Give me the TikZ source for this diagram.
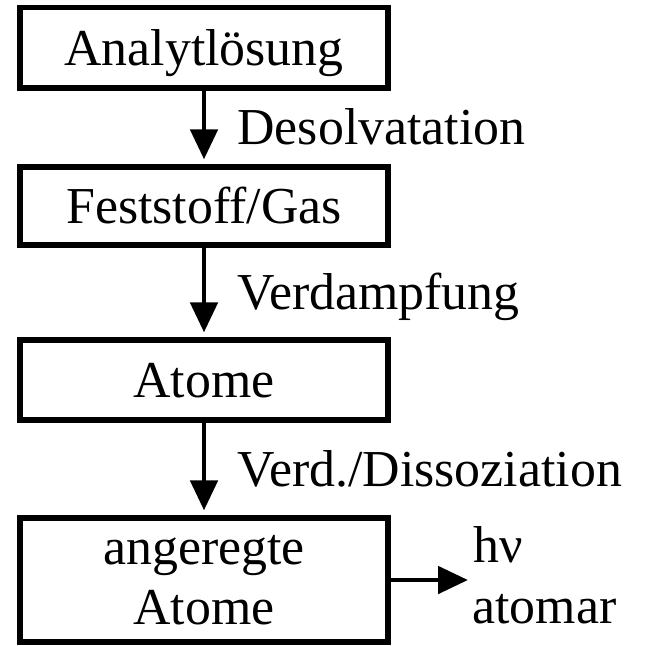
\documentclass[tikz,border=0pt]{standalone}
\usepackage{fontspec}
\setmainfont{Liberation Serif}
\usetikzlibrary{arrows.meta}

\tikzset{
    stage/.style={draw, line width=3pt, minimum width=7.36cm, inner sep=0pt,
        align=center, font=\fontsize{29.5}{34}\selectfont},
    capline/.style={text height=0.69cm, text depth=0pt},
    proc/.style={anchor=west, inner sep=2pt, capline, font=\fontsize{29.5}{34}\selectfont},
    flow/.style={-{Triangle[length=0.6cm,width=0.54cm]}, line width=2.8pt},
}

\begin{document}
\begin{tikzpicture}
    \useasboundingbox (0,0) rectangle (13.06,-12.9);

    \node[stage, capline, minimum height=1.61cm] (loesung) at (4.08,-0.955) {Analytlösung};
    \node[stage, capline, minimum height=1.56cm] (feststoff) at (4.08,-4.12) {Feststoff/Gas};
    \node[stage, capline, minimum height=1.6cm] (atome) at (4.08,-7.6) {Atome};
    \node[stage, minimum height=2.48cm] (angeregt) at (4.08,-11.6) {angeregte\\Atome};
    \coordinate (emission) at (9.36,-11.6);

    \draw[flow, shorten >=0.1cm] (loesung) -- (feststoff)
        node[proc, midway, xshift=0.55cm] (desolv) {Desolvatation};
    \draw[flow, shorten >=0.1cm] (feststoff) -- (atome)
        node[proc, midway, xshift=0.55cm] (verdampf) {Verdampfung};
    \draw[flow, shorten >=0.1cm] (atome) -- (angeregt)
        node[proc, midway, xshift=0.55cm] (dissoz) {Verd./Dissoziation};

    \draw[flow] (angeregt) -- (emission);
    \node[proc, anchor=base west] (hnu) at (9.39,-11.24) {hν};
    \node[proc, anchor=base west] (atomar) at (9.37,-12.46) {atomar};
\end{tikzpicture}
\end{document}
